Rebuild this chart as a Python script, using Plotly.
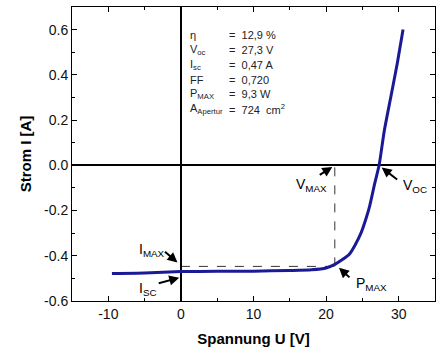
import plotly.graph_objects as go

# I-V curve data (Spannung U [V], Strom I [A])
voltage = [-9.5, -5, 0, 5, 10, 15, 18, 20, 21.2, 22.2, 23.2, 24.0, 24.8, 25.5,
           26.0, 26.7, 27.3, 28.0, 28.9, 29.8, 30.6]
current = [-0.478, -0.476, -0.470, -0.469, -0.468, -0.465, -0.462, -0.454, -0.438,
           -0.418, -0.393, -0.352, -0.300, -0.235, -0.180, -0.080, 0.0, 0.15, 0.30,
           0.45, 0.60]

# characteristic points
V_MAX = 21.2
I_MAX = -0.447
V_OC = 27.3
I_SC = -0.47

# info box
info_labels = ["η", "V<sub>oc</sub>", "I<sub>sc</sub>", "FF", "P<sub>MAX</sub>",
               "A<sub>Apertur</sub>"]
info_values = ["=  12,9 %", "=  27,3 V", "=  0,47 A", "=  0,720", "=  9,3 W",
               "=  724  cm<sup>2</sup>"]
info_y = [0.575, 0.509, 0.445, 0.378, 0.314, 0.248]

x_ticks = [-10, 0, 10, 20, 30]
y_ticks = [-0.6, -0.4, -0.2, 0.0, 0.2, 0.4, 0.6]

FONT = "Liberation Sans, Arial, sans-serif"
BLUE = "#1a1a96"

fig = go.Figure()
fig.add_trace(go.Scatter(x=voltage, y=current, mode="lines",
                         line=dict(color=BLUE, width=3, shape="spline", smoothing=0.6),
                         showlegend=False, hoverinfo="skip"))

# dashed guides
fig.add_shape(type="line", x0=0, x1=V_MAX, y0=I_MAX, y1=I_MAX,
              line=dict(color="#333", width=1, dash="dash"), layer="below")
fig.add_shape(type="line", x0=V_MAX, x1=V_MAX, y0=I_MAX, y1=0,
              line=dict(color="#333", width=1, dash="dash"), layer="below")

ann = []
for lab, val, yy in zip(info_labels, info_values, info_y):
    ann.append(dict(x=1.0, y=yy, xref="x", yref="y", text=lab, showarrow=False,
                    xanchor="left", yanchor="middle",
                    font=dict(family=FONT, size=11, color="#222")))
    ann.append(dict(x=6.4, y=yy, xref="x", yref="y", text=val, showarrow=False,
                    xanchor="left", yanchor="middle",
                    font=dict(family=FONT, size=11, color="#222")))

bigfont = dict(family=FONT, size=14, color="black")
# labels
labels = [
    ("V<sub>MAX</sub>", 15.6, -0.085),
    ("V<sub>OC</sub>", 30.3, -0.09),
    ("P<sub>MAX</sub>", 23.8, -0.525),
    ("I<sub>MAX</sub>", -6.1, -0.375),
    ("I<sub>SC</sub>", -6.0, -0.545),
]
for t, x, y in labels:
    ann.append(dict(x=x, y=y, xref="x", yref="y", text=t, showarrow=False,
                    xanchor="left", yanchor="middle", font=bigfont))

# arrows (head at x,y; tail offset ax, ay in px)
arrows = [
    (20.85, -0.007, -14, 9),
    (27.65, -0.01, 17, 13),
    (21.77, -0.453, 12, 11),
    (-0.47, -0.43, -14, -12),
    (-0.23, -0.497, -22, 6),
]
for x, y, ax, ay in arrows:
    ann.append(dict(x=x, y=y, xref="x", yref="y", text="", showarrow=True,
                    ax=ax, ay=ay, arrowhead=2, arrowsize=1, arrowwidth=2,
                    arrowcolor="black"))

axis_common = dict(showline=True, linecolor="black", linewidth=1, mirror="ticks",
                   ticks="inside", ticklen=5, tickcolor="black", tickwidth=1,
                   showgrid=False, zeroline=True, zerolinecolor="black",
                   zerolinewidth=2, automargin=False,
                   tickfont=dict(family=FONT, size=14, color="#111"))

fig.update_layout(
    width=444, height=360,
    margin=dict(l=72, r=9, t=7, b=59),
    paper_bgcolor="white", plot_bgcolor="white",
    showlegend=False,
    annotations=ann,
    xaxis=dict(range=[-15, 35], tickvals=x_ticks, ticktext=[str(v) for v in x_ticks],
               minor=dict(dtick=5, ticks="inside", ticklen=3, tickcolor="black"),
               title=dict(text="<b>Spannung U [V]</b>",
                          font=dict(family=FONT, size=15, color="black"), standoff=12),
               **axis_common),
    yaxis=dict(range=[-0.6, 0.7], tickvals=y_ticks,
               ticktext=[f"{v:.1f}" for v in y_ticks],
               minor=dict(dtick=0.1, ticks="inside", ticklen=3, tickcolor="black"),
               title=dict(text="<b>Strom I [A]</b>",
                          font=dict(family=FONT, size=15, color="black"), standoff=8),
               **axis_common),
)

fig.write_html("out.html", config={"displayModeBar": False},
               post_script="document.body.style.margin='0';document.body.style.overflow='hidden';")
